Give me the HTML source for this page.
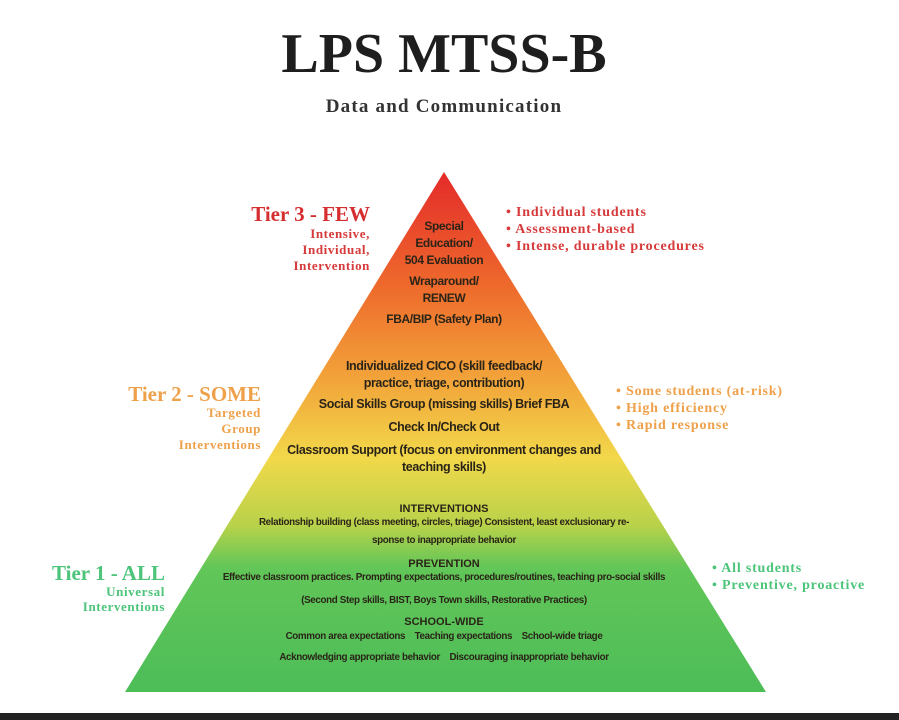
<!DOCTYPE html>
<html><head><meta charset="utf-8"><style>
body{margin:0;width:899px;height:720px;background:#fff;position:relative;overflow:hidden;font-family:"Liberation Sans",sans-serif}
.a{position:absolute;white-space:nowrap}
.c{position:absolute;left:0;width:888px;text-align:center;color:#2a2418;font-size:12.5px;font-weight:bold;letter-spacing:-0.4px;white-space:nowrap}
.sm{font-size:9.8px;letter-spacing:-0.35px}
.h{font-size:11px;letter-spacing:0}
.s{font-family:"Liberation Serif",serif;font-weight:bold}
.r{text-align:right}
</style></head><body>
<div class="a s" style="left:0;width:888px;text-align:center;top:22px;font-size:56px;color:#1e1e1e;letter-spacing:0px">LPS MTSS-B</div>
<div class="a s" style="left:0;width:888px;text-align:center;top:96px;font-size:19px;color:#333;letter-spacing:1.2px">Data and Communication</div>
<svg class="a" style="left:0;top:0" width="899" height="720">
<defs><linearGradient id="g" x1="0" y1="172" x2="0" y2="692" gradientUnits="userSpaceOnUse">
<stop offset="0" stop-color="#e42a2a"/><stop offset="0.22" stop-color="#ee6a2c"/><stop offset="0.4" stop-color="#f2a43a"/><stop offset="0.55" stop-color="#f2d84a"/><stop offset="0.68" stop-color="#b8d24a"/><stop offset="0.76" stop-color="#62c658"/><stop offset="1" stop-color="#4dbd58"/></linearGradient></defs>
<polygon points="444,172 766,692 125,692" fill="url(#g)"/>
<rect x="0" y="713" width="899" height="7" fill="#222"/>
</svg>
<div class="c" style="top:218px;line-height:17px;font-size:12px">Special<br>Education/<br>504 Evaluation</div>
<div class="c" style="top:273px;line-height:17px;font-size:12px">Wraparound/<br>RENEW</div>
<div class="c" style="top:312px;font-size:12px">FBA/BIP (Safety Plan)</div>
<div class="c" style="top:358px;line-height:17px">Individualized CICO (skill feedback/<br>practice, triage, contribution)</div>
<div class="c" style="top:397px">Social Skills Group (missing skills) Brief FBA</div>
<div class="c" style="top:420px">Check In/Check Out</div>
<div class="c" style="top:442px;line-height:17px">Classroom Support (focus on environment changes and<br>teaching skills)</div>
<div class="c h" style="top:503px">INTERVENTIONS</div>
<div class="c sm" style="top:514px;line-height:18px">Relationship building (class meeting, circles, triage) Consistent, least exclusionary re-<br>sponse to inappropriate behavior</div>
<div class="c h" style="top:558px">PREVENTION</div>
<div class="c sm" style="top:572px">Effective classroom practices. Prompting expectations, procedures/routines, teaching pro-social skills</div>
<div class="c sm" style="top:595px">(Second Step skills, BIST, Boys Town skills, Restorative Practices)</div>
<div class="c h" style="top:616px">SCHOOL-WIDE</div>
<div class="c sm" style="top:631px">Common area expectations &nbsp;&nbsp; Teaching expectations &nbsp;&nbsp; School-wide triage</div>
<div class="c sm" style="top:652px">Acknowledging appropriate behavior &nbsp;&nbsp; Discouraging inappropriate behavior</div>

<div class="a s r" style="right:529px;top:202px;font-size:21px;color:#d62e2e">Tier 3 - FEW</div>
<div class="a s r" style="right:529px;top:226px;font-size:13px;line-height:16px;color:#d63a3a;letter-spacing:0.6px">Intensive,<br>Individual,<br>Intervention</div>
<div class="a s" style="left:506px;top:204px;font-size:14px;line-height:17px;color:#d63a3a;letter-spacing:0.8px">• Individual students<br>• Assessment-based<br>• Intense, durable procedures</div>

<div class="a s r" style="right:638px;top:382px;font-size:21px;color:#efa04a">Tier 2 - SOME</div>
<div class="a s r" style="right:638px;top:405px;font-size:13px;line-height:16px;color:#efa04a;letter-spacing:0.6px">Targeted<br>Group<br>Interventions</div>
<div class="a s" style="left:616px;top:383px;font-size:14px;line-height:17px;color:#efa04a;letter-spacing:0.8px">• Some students (at-risk)<br>• High efficiency<br>• Rapid response</div>

<div class="a s r" style="right:734px;top:561px;font-size:21px;color:#4cc47a">Tier 1 - ALL</div>
<div class="a s r" style="right:734px;top:584px;font-size:13px;line-height:15px;color:#4cc47a;letter-spacing:0.6px">Universal<br>Interventions</div>
<div class="a s" style="left:712px;top:560px;font-size:14px;line-height:17px;color:#4cc47a;letter-spacing:0.8px">• All students<br>• Preventive, proactive</div>
</body></html>
